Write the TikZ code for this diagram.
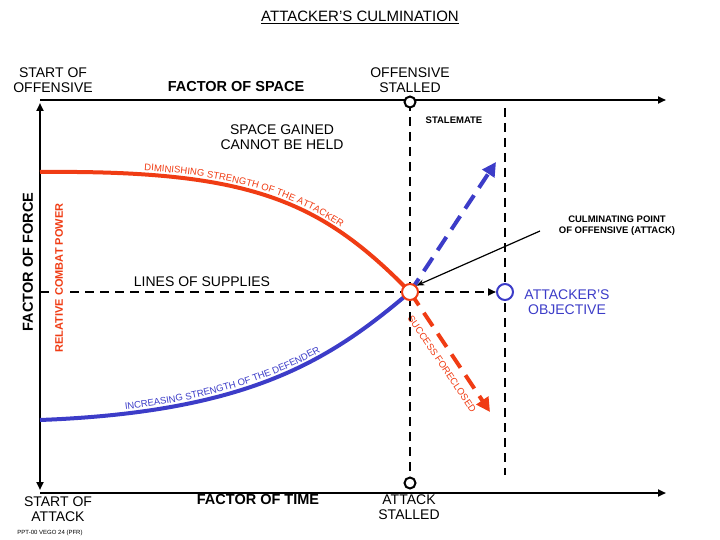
\documentclass[tikz,border=0pt]{standalone}
\usepackage{fontspec}
\setmainfont{Liberation Sans}
\usetikzlibrary{arrows.meta,decorations.text}
\definecolor{ored}{HTML}{F03C14}
\definecolor{dblue}{HTML}{3C3CC8}
\tikzset{
 axis/.style={line width=2.2pt,-{Triangle[length=8pt,width=7pt]}},
 dashln/.style={line width=2.2pt,dash pattern=on 9pt off 6pt},
 lbl/.style={font=\fontsize{14}{15.5}\selectfont,align=center,inner sep=1pt},
 blbl/.style={font=\bfseries\fontsize{14.5}{16}\selectfont,align=center},
 circ/.style={circle,draw,line width=2pt,fill=white,minimum size=11pt,inner sep=0pt}
}
\begin{document}
\begin{tikzpicture}[x=1pt,y=-1pt]
\useasboundingbox (0,0) rectangle (720,540);
\node[font=\fontsize{15}{16}\selectfont] (title) at (360,17) {\underline{ATTACKER'S CULMINATION}};
% axes
\coordinate (tl) at (40,100); \coordinate (tr) at (666,100);
\coordinate (bl) at (40,493); \coordinate (br) at (666,493);
\draw[axis] (tl) -- (tr);
\draw[axis] (bl) -- (br);
\draw[line width=2.2pt,{Triangle[length=8pt,width=7pt]}-{Triangle[length=8pt,width=7pt]}] (40,103) -- (40,490);
% dashed verticals
\coordinate (v1t) at (410,102); \coordinate (v1b) at (410,483);
\coordinate (v2t) at (505,108); \coordinate (v2b) at (505,475);
\draw[dashln] (v1t) -- (v1b);
\draw[dashln] (v2t) -- (v2b);
% supply line
\node[circ,draw=dblue,minimum size=16pt] (obj) at (505,292) {};
\coordinate (sl) at (40,292);
\draw[dashln,-{Triangle[length=8pt,width=7pt]}] (sl) -- (obj.west);
% curves
\coordinate (cp) at (410,292);
\draw[ored,line width=4pt] (40,172) .. controls (250,170) and (320,200) .. (cp);
\draw[dblue,line width=4pt] (40,420) .. controls (250,412) and (330,360) .. (cp);
\path[decorate,decoration={text along path,raise=4pt,text align={left indent=104pt},
  text={|\fontsize{9.5}{10}\selectfont\color{ored}|DIMINISHING STRENGTH OF THE ATTACKER}}]
  (40,172) .. controls (250,170) and (320,200) .. (cp);
\path[decorate,decoration={text along path,raise=4pt,text align={left indent=86pt},
  text={|\fontsize{9.5}{10}\selectfont\color{dblue}|INCREASING STRENGTH OF THE DEFENDER}}]
  (40,420) .. controls (250,412) and (330,360) .. (cp);
% dashed arrows
\coordinate (bu) at (496,162); \coordinate (od) at (490,412);
\draw[dblue,line width=4pt,dash pattern=on 16pt off 9pt,-{Triangle[length=14pt,width=14pt]}] (cp) -- (bu);
\draw[ored,line width=4pt,dash pattern=on 16pt off 9pt,-{Triangle[length=14pt,width=14pt]}] (cp) -- (od);
\node[rotate=-56,text=ored,font=\fontsize{9.5}{10}\selectfont] (sf) at (442,364) {SUCCESS FORECLOSED};
\node[circ,draw=ored,minimum size=16pt] (cpc) at (cp) {};
% axis circles
\node[circ] (os) at (410,102) {};
\node[circ] (as) at (410,483) {};
% culminating arrow
\node[font=\bfseries\fontsize{9.5}{11}\selectfont,align=center] (cul) at (617,226) {CULMINATING POINT\\OF OFFENSIVE (ATTACK)};
\coordinate (ca) at (540,231);
\draw[line width=1.2pt,-{Stealth[length=8pt]}] (ca) -- (cpc.north east);
% labels
\node[lbl] (so) at (53,80) {START OF\\OFFENSIVE};
\node[blbl] (fs) at (236,87) {FACTOR OF SPACE};
\node[lbl] (ost) at (410,80) {OFFENSIVE\\STALLED};
\node[font=\bfseries\fontsize{9.5}{10}\selectfont] (st) at (454,120) {STALEMATE};
\node[lbl] (sg) at (282,137) {SPACE GAINED\\CANNOT BE HELD};
\node[lbl] (ls) at (202,282) {LINES OF SUPPLIES};
\node[lbl,text=dblue] (ao) at (567,302) {ATTACKER'S\\OBJECTIVE};
\node[lbl] (sa) at (58,509) {START OF\\ATTACK};
\node[blbl] (ft) at (258,500) {FACTOR OF TIME};
\node[lbl] (ast) at (409,507) {ATTACK\\STALLED};
\node[font=\fontsize{6}{7}\selectfont] (ppt) at (50,533) {PPT-00 VEGO 24 (PFR)};
\node[rotate=90,font=\bfseries\fontsize{14.5}{15}\selectfont] (ff) at (28,262) {FACTOR OF FORCE};
\node[rotate=90,fill=white,inner sep=1pt,font=\bfseries\fontsize{11}{12}\selectfont,text=ored] (rcp) at (59,278) {RELATIVE COMBAT POWER};
\end{tikzpicture}
\end{document}
